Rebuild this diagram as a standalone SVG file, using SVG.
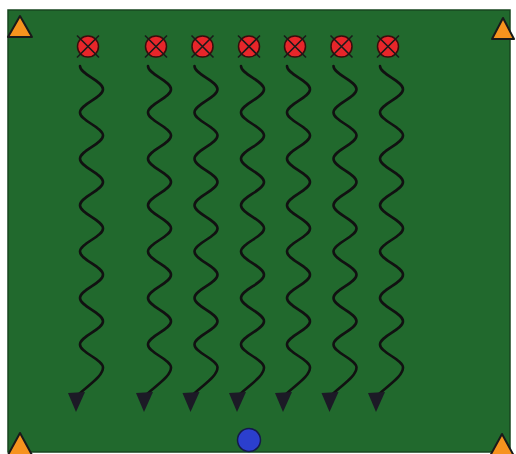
<svg xmlns="http://www.w3.org/2000/svg" xmlns:xlink="http://www.w3.org/1999/xlink" width="516" height="454" viewBox="0 0 516 454">
<style>
.cone{fill:#f7931e;stroke:#1a1a1a;stroke-width:2;stroke-linejoin:round}
.pfill{fill:#e8262a;stroke:#3a0c0c;stroke-width:1.5}
.pcross{stroke:#1a1a1a;stroke-width:1.6;fill:none}
.wave{fill:none;stroke:#111;stroke-width:2.6;stroke-linecap:round}
.head{fill:#1c1a26}
</style>
<defs>
<g id="runArrow">
<path class="wave" d="M-8,66 C-8,74.4 15,80.8 15,89.2 S-8,104 -8,112.4 S15,127.2 15,135.6 S-8,150.4 -8,158.8 S15,173.6 15,182 S-8,196.8 -8,205.2 S15,220 15,228.4 S-8,243.2 -8,251.6 S15,266.4 15,274.8 S-8,289.6 -8,298 S15,312.8 15,321.2 S-8,336 -8,344.4 S15,359.2 15,367.6 S2,384 -11,396"/>
<polygon class="head" points="-20,393 -3,392 -12,412"/>
</g>
<g id="playerMark">
<circle class="pfill" r="10.5"/>
<path class="pcross" d="M-11,-11 L11,11 M11,-11 L-11,11"/>
</g>
</defs>
<rect x="0" y="0" width="516" height="454" fill="#ffffff"/>
<rect id="field" x="8" y="10" width="502" height="442" fill="#21692d" stroke="#17461f" stroke-width="1.5"/>
<g id="connectors">
<use xlink:href="#runArrow" x="88" y="0"/>
<use xlink:href="#runArrow" x="156" y="0"/>
<use xlink:href="#runArrow" x="202.5" y="0"/>
<use xlink:href="#runArrow" x="249" y="0"/>
<use xlink:href="#runArrow" x="295" y="0"/>
<use xlink:href="#runArrow" x="341.5" y="0"/>
<use xlink:href="#runArrow" x="388" y="0"/>
</g>
<g id="player1"><use xlink:href="#playerMark" x="88" y="46.5"/></g>
<g id="player2"><use xlink:href="#playerMark" x="156" y="46.5"/></g>
<g id="player3"><use xlink:href="#playerMark" x="202.5" y="46.5"/></g>
<g id="player4"><use xlink:href="#playerMark" x="249" y="46.5"/></g>
<g id="player5"><use xlink:href="#playerMark" x="295" y="46.5"/></g>
<g id="player6"><use xlink:href="#playerMark" x="341.5" y="46.5"/></g>
<g id="player7"><use xlink:href="#playerMark" x="388" y="46.5"/></g>
<g id="coneTL"><polygon class="cone" points="20,16 32,37 8,37"/></g>
<g id="coneTR"><polygon class="cone" points="503,18 514,39 492,39"/></g>
<g id="coneBL"><polygon class="cone" points="20,433 32,455 8,455"/></g>
<g id="coneBR"><polygon class="cone" points="502,434 514,456 490,456"/></g>
<g id="ball"><circle cx="249" cy="440" r="11.5" fill="#2b3fce" stroke="#141a4a" stroke-width="1.5"/></g>
</svg>
